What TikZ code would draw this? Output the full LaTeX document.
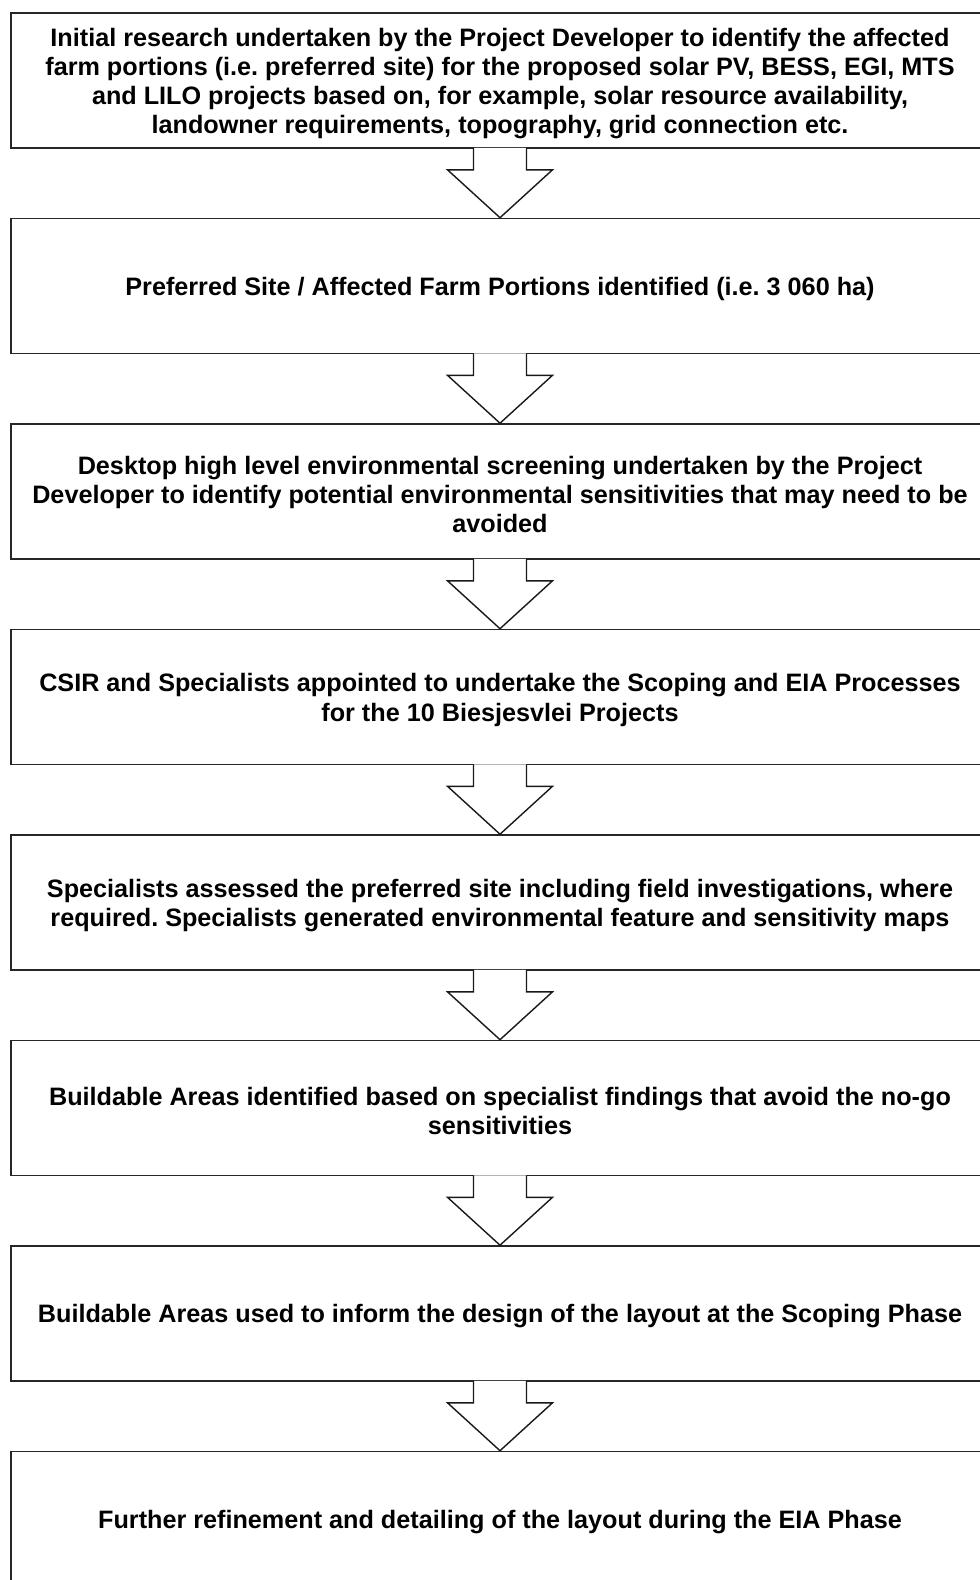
\documentclass[tikz,border=0pt]{standalone}
\usepackage{fontspec}
\setmainfont{Liberation Sans}
\usetikzlibrary{calc}
\begin{document}
\begin{tikzpicture}[x=1pt,y=-1pt,
 box/.style={draw=black!85, line width=1.6pt, minimum width=978pt, minimum height=135pt, inner sep=0pt},
 boxtext/.style={inner sep=0pt, align=center, font=\frenchspacing\bfseries\fontsize{25.2}{29.3}\selectfont},
 blockarrow/.style={draw=black!90, fill=white, line width=1.4pt, line join=miter}]
\useasboundingbox (0,0) rectangle (980,1580);
\clip (0,0) rectangle (980,1580);
\foreach \i/\y in {1/80.5,2/286,3/491.5,4/697,5/902.5,6/1108,7/1313.5,8/1519}{
  \node[box] (b\i) at (500,\y) {};
}
\node[boxtext] (t1) at ($(b1.center)+(0,3)$) {Initial research undertaken by the Project Developer to identify the affected\\farm portions (i.e. preferred site) for the proposed solar PV, BESS, EGI, MTS\\and LILO projects based on, for example, solar resource availability,\\landowner requirements, topography, grid connection etc.};
\node[boxtext] (t2) at ($(b2.center)+(0,3)$) {Preferred Site / Affected Farm Portions identified (i.e. 3 060 ha)};
\node[boxtext] (t3) at ($(b3.center)+(0,3)$) {Desktop high level environmental screening undertaken by the Project\\Developer to identify potential environmental sensitivities that may need to be\\avoided};
\node[boxtext] (t4) at ($(b4.center)+(0,3)$) {CSIR and Specialists appointed to undertake the Scoping and EIA Processes\\for the 10 Biesjesvlei Projects};
\node[boxtext] (t5) at ($(b5.center)+(0,3)$) {Specialists assessed the preferred site including field investigations, where\\required. Specialists generated environmental feature and sensitivity maps};
\node[boxtext] (t6) at ($(b6.center)+(0,3)$) {Buildable Areas identified based on specialist findings that avoid the no-go\\sensitivities};
\node[boxtext] (t7) at ($(b7.center)+(0,3)$) {Buildable Areas used to inform the design of the layout at the Scoping Phase};
\node[boxtext] (t8) at ($(b8.center)+(0,3)$) {Further refinement and detailing of the layout during the EIA Phase};
\foreach \a/\b in {b1/b2,b2/b3,b3/b4,b4/b5,b5/b6,b6/b7,b7/b8}{
  \draw[blockarrow] ($(\a.south)+(-26.5,-0.9)$) -- ($(\a.south)+(-26.5,21)$) -- ($(\a.south)+(-52.5,21)$) -- (\b.north) -- ($(\a.south)+(52.5,21)$) -- ($(\a.south)+(26.5,21)$) -- ($(\a.south)+(26.5,-0.9)$);
}
\end{tikzpicture}
\end{document}
